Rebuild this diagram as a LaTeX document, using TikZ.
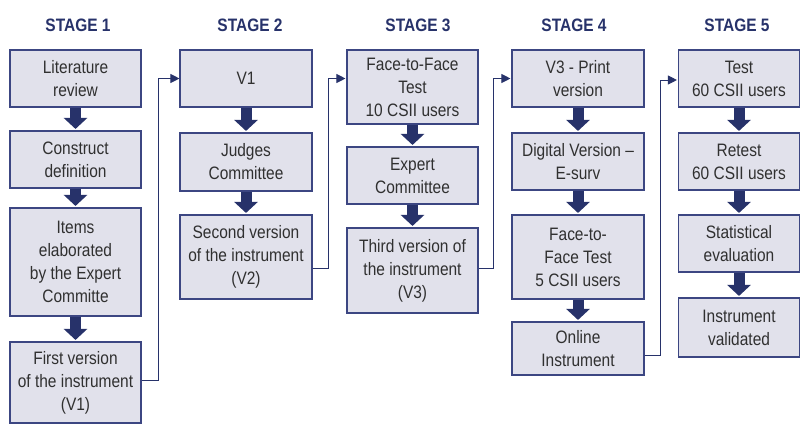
\documentclass[tikz,border=0pt]{standalone}
\usepackage{fontspec}
\setmainfont{Liberation Sans}[FakeStretch=0.86]
\usetikzlibrary{arrows.meta,calc}
\definecolor{navy}{HTML}{27326A}
\definecolor{boxfill}{HTML}{E1E1EB}
\definecolor{boxline}{HTML}{3C4682}
\definecolor{txt}{HTML}{303030}
\tikzset{
  stepbox/.style={draw=boxline, line width=1.1pt, fill=boxfill, text=txt,
    align=center, inner sep=0pt, minimum width=131pt,
    font={\fontsize{18}{23}\selectfont}},
  stagehead/.style={text=navy, font={\fontsize{18}{22}\selectfont\bfseries}},
  bigarrow/.style={navy, line width=11pt, -{Triangle[width=23pt,length=11pt]}},
  conn/.style={draw=navy, line width=0.9pt, -{Triangle[width=9pt,length=9pt]}}
}
\begin{document}
\begin{tikzpicture}[x=1pt,y=-1pt]
\useasboundingbox (0,0) rectangle (801,424);
% headers
\node[stagehead] (h1) at (78,25) {STAGE 1};
\node[stagehead] (h2) at (250,25) {STAGE 2};
\node[stagehead] (h3) at (418,25) {STAGE 3};
\node[stagehead] (h4) at (574,25) {STAGE 4};
\node[stagehead] (h5) at (737,25) {STAGE 5};
% stage 1
\node[stepbox, minimum height=57pt] (A1) at (75.5,78.5) {Literature\\review};
\node[stepbox, minimum height=57pt] (A2) at (75.5,159.5) {Construct\\definition};
\node[stepbox, minimum height=108pt] (A3) at (75.5,262) {Items\\elaborated\\by the Expert\\Committe};
\node[stepbox, minimum height=81pt] (A4) at (75.5,382.5) {First version\\of the instrument\\(V1)};
% stage 2
\node[stepbox, minimum width=132pt, minimum height=57pt] (B1) at (246,78.5) {V1};
\node[stepbox, minimum width=132pt, minimum height=58pt] (B2) at (246,162) {Judges\\Committee};
\node[stepbox, minimum width=132pt, minimum height=84pt] (B3) at (246,257) {Second version\\of the instrument\\(V2)};
% stage 3
\node[stepbox, minimum height=74pt] (C1) at (412.5,87) {Face-to-Face\\Test\\10 CSII users};
\node[stepbox, minimum height=57pt] (C2) at (412.5,175.5) {Expert\\Committee};
\node[stepbox, minimum height=85pt] (C3) at (412.5,270.5) {Third version of\\the instrument\\(V3)};
% stage 4
\node[stepbox, minimum width=132pt, minimum height=57pt] (D1) at (578,78.5) {V3 - Print\\version};
\node[stepbox, minimum width=132pt, minimum height=57pt] (D2) at (578,161.5) {Digital Version –\\E-surv};
\node[stepbox, minimum width=132pt, minimum height=84pt] (D3) at (578,257) {Face-to-\\Face Test\\5 CSII users};
\node[stepbox, minimum width=132pt, minimum height=53pt] (D4) at (578,348.5) {Online\\Instrument};
% stage 5
\node[stepbox, minimum width=121pt, minimum height=57pt] (E1) at (739,78.5) {Test\\60 CSII users};
\node[stepbox, minimum width=121pt, minimum height=57pt] (E2) at (739,161.5) {Retest\\60 CSII users};
\node[stepbox, minimum width=121pt, minimum height=57pt] (E3) at (739,243.5) {Statistical\\evaluation};
\node[stepbox, minimum width=121pt, minimum height=59pt] (E4) at (739,327.5) {Instrument\\validated};
% thick arrows
\foreach \a/\b in {A1/A2,A2/A3,A3/A4,B1/B2,B2/B3,C1/C2,C2/C3,D1/D2,D2/D3,D3/D4,E1/E2,E2/E3,E3/E4}{
  \draw[bigarrow] (\a.south) -- ([yshift=1.5pt]\b.north);
}
% connectors between stages
\draw[conn] ([yshift=2pt]A4.east) -- ++(17,0) |- (B1.west);
\draw[conn] ([yshift=-11pt]B3.east) -- ++(16,0) |- ([xshift=-1pt]C1.west |- B1.west);
\draw[conn] ([yshift=2.5pt]C3.east) -- ++(15,0) |- ([xshift=-1pt]D1.west);
\draw[conn] ([yshift=-6.5pt]D4.east) -- ++(16,0) |- ([xshift=-1pt,yshift=-1.5pt]E1.west);
\end{tikzpicture}
\end{document}
